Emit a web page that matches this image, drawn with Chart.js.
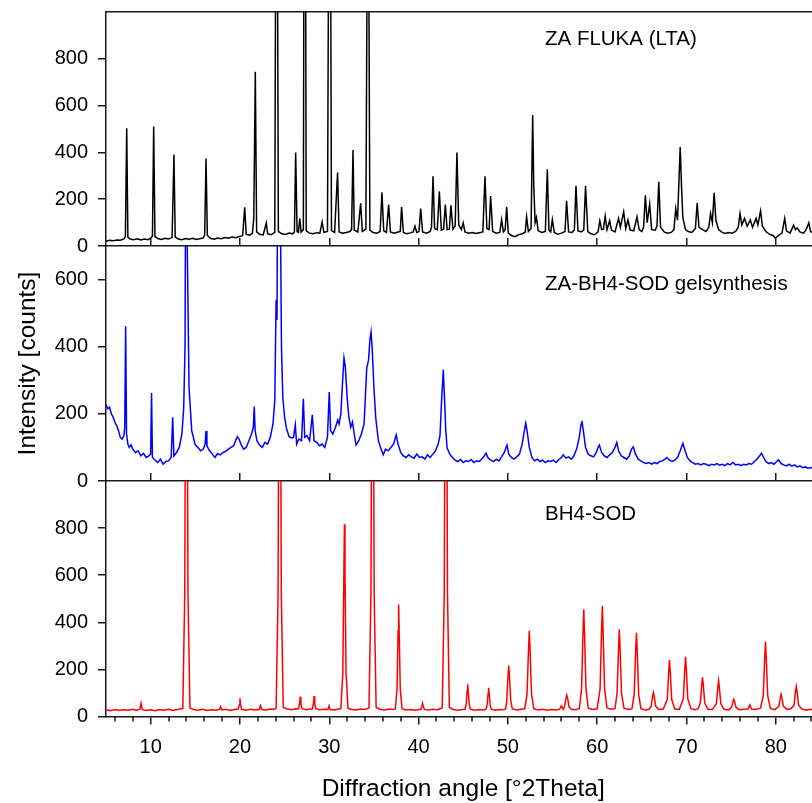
<!DOCTYPE html>
<html><head><meta charset="utf-8">
<script src="https://cdn.jsdelivr.net/npm/chart.js"></script>
<style>
html,body{margin:0;padding:0;background:#fff;overflow:hidden;width:812px;height:803px;}
canvas{position:absolute;left:0;}
#c1{top:0;z-index:1} #c2{top:230px;z-index:2} #c3{top:465px;z-index:3}
</style></head><body>
<canvas id="c1" width="830" height="256"></canvas>
<canvas id="c2" width="830" height="261"></canvas>
<canvas id="c3" width="830" height="341"></canvas>
<script>
const FONT = "'Liberation Sans', Arial, Helvetica, sans-serif";
const AXIS = '#1a1a1a';

const panelLabels = ['ZA FLUKA (LTA)', 'ZA-BH4-SOD gelsynthesis', 'BH4-SOD'];
const yMaxima = [1000, 700, 1000];
const yLabelMax = [800, 600, 800];
const lineColors = ['#000000', '#0000ff', '#ff0000'];
const xMajorTicks = [10, 20, 30, 40, 50, 60, 70, 80];
const xMinorStep = 2;
const xTitle = 'Diffraction angle [°2Theta]';
const yTitle = 'Intensity [counts]';

// [2Theta, counts]
const flukaLTA = [[5.0,20],[5.4,24],[5.8,22],[6.2,26],[6.6,25],[7.0,30],[7.17,40],[7.32,503],[7.45,38],[7.7,30],[8.1,27],[8.5,31],[8.9,26],[9.3,30],[9.7,27],[10.0,33],[10.2,42],[10.34,511],[10.48,40],[10.8,32],[11.2,28],[11.6,33],[12.0,30],[12.4,36],[12.61,391],[12.75,38],[13.1,30],[13.5,27],[13.9,32],[14.3,29],[14.7,33],[15.1,28],[15.5,31],[15.9,35],[16.05,48],[16.2,374],[16.35,45],[16.7,33],[17.1,29],[17.5,34],[17.9,31],[18.3,36],[18.7,33],[19.1,38],[19.5,35],[19.9,40],[20.3,44],[20.53,165],[20.7,50],[21.1,46],[21.4,55],[21.55,120],[21.72,745],[21.87,60],[22.2,50],[22.6,47],[22.95,98],[23.1,52],[23.5,48],[23.9,58],[24.1,2500],[24.3,62],[24.7,52],[25.1,49],[25.5,55],[25.9,52],[26.1,60],[26.24,399],[26.4,62],[26.55,58],[26.7,118],[26.85,60],[27.1,70],[27.25,3000],[27.42,65],[27.8,55],[28.2,52],[28.6,57],[28.95,55],[29.2,103],[29.4,58],[29.8,62],[30.05,2500],[30.25,66],[30.6,58],[30.93,314],[31.1,60],[31.5,55],[31.9,58],[32.3,62],[32.5,70],[32.66,410],[32.8,68],[33.2,60],[33.52,183],[33.7,62],[34.1,72],[34.34,2000],[34.55,68],[34.9,58],[35.3,55],[35.7,62],[35.9,230],[36.1,65],[36.4,58],[36.65,177],[36.85,60],[37.3,55],[37.7,60],[37.95,62],[38.1,167],[38.3,58],[38.7,52],[39.1,56],[39.4,60],[39.6,85],[39.8,58],[40.05,62],[40.24,160],[40.45,60],[40.9,55],[41.3,62],[41.45,80],[41.62,298],[41.8,75],[42.1,70],[42.33,234],[42.55,68],[42.8,72],[43.0,177],[43.2,70],[43.45,72],[43.63,174],[43.85,72],[44.1,85],[44.3,399],[44.5,90],[44.8,70],[45.0,99],[45.2,60],[45.6,55],[46.0,58],[46.4,54],[46.8,57],[47.2,60],[47.44,298],[47.65,75],[47.9,70],[48.07,214],[48.3,62],[48.7,55],[49.1,58],[49.3,113],[49.5,60],[49.7,70],[49.87,167],[50.05,55],[50.4,45],[50.8,40],[51.2,48],[51.6,52],[51.95,60],[52.1,125],[52.3,62],[52.6,75],[52.78,560],[52.9,262],[53.05,100],[53.2,122],[53.4,65],[53.8,58],[54.2,62],[54.42,328],[54.6,68],[54.8,60],[54.98,113],[55.2,58],[55.6,50],[56.0,55],[56.4,62],[56.58,193],[56.8,60],[57.2,58],[57.45,70],[57.63,257],[57.85,65],[58.2,60],[58.5,68],[58.7,257],[58.95,62],[59.3,52],[59.7,48],[60.1,60],[60.3,108],[60.5,70],[60.7,72],[60.9,128],[61.1,70],[61.4,108],[61.6,68],[62.0,60],[62.4,118],[62.6,80],[62.97,146],[63.2,75],[63.45,111],[63.7,68],[64.1,65],[64.46,125],[64.7,70],[65.0,62],[65.2,80],[65.4,217],[65.6,100],[65.88,179],[66.1,70],[66.5,68],[66.7,85],[66.9,274],[67.1,80],[67.5,60],[67.9,55],[68.3,58],[68.6,70],[68.8,160],[69.0,110],[69.3,423],[69.45,252],[69.6,120],[69.9,70],[70.2,62],[70.6,58],[71.0,75],[71.2,184],[71.4,80],[71.8,70],[72.2,62],[72.5,80],[72.7,139],[72.9,100],[73.1,227],[73.3,110],[73.6,70],[74.0,58],[74.35,54],[74.7,58],[75.1,55],[75.5,62],[75.8,80],[76.0,139],[76.2,90],[76.5,118],[76.8,85],[77.15,111],[77.4,80],[77.8,118],[78.0,90],[78.3,150],[78.5,85],[78.9,62],[79.3,50],[79.7,45],[79.95,33],[80.3,45],[80.7,55],[81.0,118],[81.2,65],[81.6,55],[82.0,89],[82.2,70],[82.4,77],[82.7,60],[83.1,55],[83.4,70],[83.7,99],[83.9,62],[84.2,55],[84.6,60],[85,57]];

const gelSynthesis = [[5.0,227],[5.2,215],[5.4,220],[5.6,200],[5.8,190],[6.0,175],[6.2,165],[6.4,150],[6.6,130],[6.8,125],[7.0,135],[7.1,160],[7.2,461],[7.3,140],[7.45,110],[7.6,100],[7.8,108],[8.0,95],[8.3,85],[8.6,90],[8.9,75],[9.2,82],[9.5,70],[9.8,75],[10.0,80],[10.1,262],[10.2,70],[10.5,62],[10.8,55],[11.1,65],[11.4,50],[11.7,58],[12.0,60],[12.3,70],[12.47,190],[12.6,75],[12.9,85],[13.2,100],[13.5,140],[13.7,217],[13.85,400],[13.96,1200],[14.1,700],[14.3,277],[14.6,150],[15.0,107],[15.3,100],[15.6,90],[15.9,95],[16.1,110],[16.2,149],[16.3,105],[16.6,90],[16.9,80],[17.2,70],[17.5,82],[17.8,78],[18.1,85],[18.4,88],[18.7,95],[19.0,100],[19.3,105],[19.5,120],[19.7,132],[19.9,125],[20.1,110],[20.4,95],[20.7,100],[21.0,120],[21.3,140],[21.5,160],[21.6,222],[21.7,150],[21.9,120],[22.2,107],[22.5,100],[22.8,115],[23.1,110],[23.4,130],[23.7,170],[23.9,240],[24.05,540],[24.15,480],[24.3,1500],[24.5,900],[24.65,400],[24.8,248],[25.0,190],[25.2,158],[25.5,132],[25.8,128],[26.0,130],[26.2,167],[26.35,110],[26.6,125],[26.9,120],[27.1,245],[27.25,130],[27.5,135],[27.8,120],[28.1,197],[28.3,120],[28.6,115],[28.9,105],[29.2,110],[29.5,100],[29.8,130],[30.0,265],[30.15,150],[30.4,140],[30.7,160],[30.95,182],[31.1,170],[31.3,200],[31.5,300],[31.65,366],[31.8,340],[32.0,250],[32.2,190],[32.4,160],[32.6,176],[32.8,140],[33.0,107],[33.3,120],[33.6,140],[33.9,170],[34.2,337],[34.4,360],[34.55,420],[34.68,444],[34.8,400],[35.0,280],[35.2,190],[35.5,120],[35.8,95],[36.05,78],[36.3,95],[36.6,90],[36.9,100],[37.2,110],[37.5,137],[37.7,110],[38.0,85],[38.3,75],[38.6,70],[38.9,78],[39.2,72],[39.5,68],[39.8,80],[40.1,70],[40.4,72],[40.7,65],[41.0,78],[41.3,70],[41.6,80],[41.9,90],[42.2,110],[42.4,135],[42.6,250],[42.77,331],[42.9,250],[43.05,150],[43.2,98],[43.5,80],[43.8,70],[44.1,62],[44.4,58],[44.7,64],[45.0,55],[45.3,60],[45.6,58],[45.9,64],[46.2,55],[46.5,60],[46.8,58],[47.1,66],[47.3,72],[47.55,83],[47.8,68],[48.1,62],[48.4,58],[48.7,65],[49.0,60],[49.3,72],[49.6,85],[49.9,107],[50.1,80],[50.4,70],[50.7,65],[51.0,72],[51.3,80],[51.6,110],[51.85,150],[52.0,172],[52.15,150],[52.4,100],[52.7,70],[53.0,60],[53.3,65],[53.6,58],[53.9,62],[54.2,55],[54.5,60],[54.8,58],[55.1,62],[55.4,55],[55.7,64],[56.0,70],[56.2,78],[56.5,68],[56.8,72],[57.1,65],[57.4,75],[57.7,95],[58.0,130],[58.2,170],[58.3,179],[58.45,150],[58.7,100],[59.0,80],[59.3,75],[59.6,72],[59.9,85],[60.1,100],[60.25,107],[60.5,85],[60.8,75],[61.1,70],[61.4,78],[61.7,85],[62.0,100],[62.2,115],[62.4,90],[62.7,75],[63.0,70],[63.3,65],[63.6,75],[63.85,95],[64.05,102],[64.3,80],[64.6,65],[64.9,60],[65.2,55],[65.5,52],[65.8,55],[66.1,50],[66.4,55],[66.7,52],[67.0,58],[67.3,60],[67.6,65],[67.8,70],[68.1,62],[68.4,58],[68.7,62],[69.0,70],[69.3,90],[69.6,112],[69.85,90],[70.1,70],[70.4,60],[70.7,55],[71.0,50],[71.3,52],[71.6,48],[71.9,52],[72.2,50],[72.5,46],[72.8,50],[73.1,48],[73.4,52],[73.7,47],[74.0,50],[74.3,46],[74.6,52],[74.9,48],[75.2,55],[75.5,48],[75.8,50],[76.1,46],[76.4,50],[76.7,48],[77.0,52],[77.3,50],[77.6,58],[77.9,65],[78.2,75],[78.4,83],[78.65,70],[78.9,58],[79.2,52],[79.5,55],[79.8,50],[80.1,58],[80.3,63],[80.6,52],[80.9,48],[81.2,45],[81.5,50],[81.8,44],[82.1,48],[82.4,42],[82.7,45],[83.0,40],[83.3,42],[83.6,38],[84.0,40],[84.5,36],[85,38]];

const bh4Sod = [[5.0,28],[5.5,25],[6.0,30],[6.5,26],[7.0,29],[7.5,27],[8.0,31],[8.4,26],[8.8,32],[8.92,56],[9.05,30],[9.5,26],[10.0,29],[10.5,25],[11.0,30],[11.5,27],[12.0,31],[12.5,26],[13.0,30],[13.4,33],[13.6,34],[13.82,524],[13.94,1882],[14.0,2500],[14.06,1882],[14.18,524],[14.4,36],[14.8,30],[15.3,27],[15.8,31],[16.3,26],[16.8,29],[17.3,27],[17.7,30],[17.84,42],[17.98,28],[18.4,31],[18.9,26],[19.4,30],[19.8,32],[19.93,50],[20.0,77],[20.07,50],[20.2,30],[20.7,27],[21.2,31],[21.7,28],[22.15,30],[22.3,46],[22.45,30],[22.9,28],[23.4,32],[23.8,30],[24.05,35],[24.27,524],[24.39,1882],[24.45,2500],[24.51,1882],[24.63,524],[24.85,38],[25.3,32],[25.8,29],[26.2,33],[26.55,32],[26.68,55],[26.75,84],[26.82,55],[26.95,33],[27.4,29],[27.8,32],[28.1,32],[28.23,55],[28.3,87],[28.37,55],[28.5,33],[28.9,29],[29.4,31],[29.85,30],[29.97,45],[30.1,30],[30.6,28],[31.0,32],[31.3,33],[31.52,187],[31.64,620],[31.7,816],[31.76,620],[31.88,187],[32.1,35],[32.5,30],[33.0,28],[33.5,32],[34.0,30],[34.45,36],[34.67,524],[34.79,1882],[34.85,2500],[34.91,1882],[35.03,524],[35.25,38],[35.7,31],[36.2,28],[36.7,32],[37.1,30],[37.4,32],[37.59,119],[37.71,365],[37.77,476],[37.83,365],[37.95,119],[38.15,33],[38.6,28],[39.1,30],[39.6,27],[40.0,30],[40.25,30],[40.38,45],[40.45,56],[40.52,45],[40.65,30],[41.1,28],[41.6,31],[42.1,29],[42.4,33],[42.65,36],[42.88,524],[43.0,1882],[43.06,2500],[43.12,1882],[43.24,524],[43.45,38],[43.9,30],[44.4,27],[44.9,30],[45.2,30],[45.33,51],[45.44,110],[45.5,137],[45.56,110],[45.67,51],[45.8,31],[46.3,27],[46.8,30],[47.3,28],[47.55,31],[47.68,48],[47.79,99],[47.85,122],[47.91,99],[48.02,48],[48.15,31],[48.6,27],[49.1,30],[49.5,29],[49.75,32],[49.88,67],[50.01,170],[50.1,216],[50.19,170],[50.32,67],[50.5,32],[51.0,28],[51.5,31],[51.9,33],[52.15,97],[52.31,280],[52.4,364],[52.49,280],[52.65,97],[52.9,33],[53.4,28],[53.9,31],[54.4,27],[54.9,30],[55.4,28],[55.8,31],[56.0,45],[56.2,30],[56.35,42],[56.5,76],[56.6,91],[56.7,76],[56.85,42],[57.1,31],[57.6,29],[58.0,33],[58.25,115],[58.41,349],[58.5,455],[58.59,349],[58.75,115],[59.0,35],[59.5,30],[60.0,33],[60.33,118],[60.49,359],[60.58,469],[60.67,359],[60.83,118],[61.1,36],[61.6,31],[62.0,34],[62.23,98],[62.39,285],[62.48,370],[62.57,285],[62.73,98],[63.0,35],[63.5,30],[63.9,33],[64.15,95],[64.31,275],[64.4,356],[64.49,275],[64.65,95],[64.9,33],[65.4,28],[65.8,31],[66.05,44],[66.2,83],[66.3,101],[66.4,83],[66.55,44],[66.9,30],[67.4,32],[67.85,72],[68.01,188],[68.1,240],[68.19,188],[68.35,72],[68.7,32],[69.2,30],[69.65,75],[69.81,198],[69.9,254],[69.99,198],[70.15,75],[70.5,33],[71.0,29],[71.3,33],[71.55,57],[71.71,132],[71.8,166],[71.89,132],[72.05,57],[72.4,31],[72.9,30],[73.35,54],[73.51,122],[73.6,152],[73.69,122],[73.85,54],[74.2,31],[74.7,28],[75.05,39],[75.2,62],[75.3,73],[75.4,62],[75.55,39],[75.9,29],[76.4,31],[76.9,32],[77.1,49],[77.3,32],[77.8,30],[78.3,36],[78.6,88],[78.76,246],[78.85,318],[78.94,246],[79.1,88],[79.4,34],[79.9,29],[80.35,43],[80.5,78],[80.6,94],[80.7,78],[80.85,43],[81.3,30],[81.7,33],[82.05,49],[82.2,103],[82.3,127],[82.4,103],[82.55,49],[82.9,32],[83.4,27],[83.9,31],[84.4,28],[85,30]];

const series = [flukaLTA, gelSynthesis, bh4Sod];

const panelLabel = {
  id: 'panelLabel',
  afterDraw(chart, args, opts) {
    const {ctx, chartArea} = chart;
    ctx.save();
    ctx.font = '20.5px ' + FONT;
    ctx.fillStyle = '#000';
    ctx.textBaseline = 'middle';
    ctx.textAlign = 'left';
    ctx.fillText(opts.text, chartArea.left + opts.dx, chartArea.top + opts.dy);
    ctx.restore();
  }
};

const minorTicks = {
  id: 'minorTicks',
  afterDraw(chart) {
    const s = chart.scales.x;
    const ctx = chart.ctx;
    ctx.save();
    ctx.strokeStyle = AXIS;
    ctx.lineWidth = 1.5;
    s.ticks.forEach(t => {
      if (!xMajorTicks.includes(t.value)) {
        const px = Math.round(s.getPixelForValue(t.value));
        ctx.beginPath();
        ctx.moveTo(px, s.top);
        ctx.lineTo(px, s.top + 5);
        ctx.stroke();
      }
    });
    ctx.restore();
  }
};

function yAxis(i, withTitle) {
  return {
    type: 'linear', position: 'left', min: 0, max: yMaxima[i],
    afterBuildTicks: s => { s.ticks = s.ticks.filter(t => t.value <= yLabelMax[i]); },
    afterFit: s => { s.width = 106; s.paddingTop = 0; s.paddingBottom = 0; },
    ticks: { stepSize: 200, padding: 10, color: '#000', font: { family: FONT, size: 20 } },
    grid: { display: true, drawOnChartArea: false, drawTicks: true, tickLength: 8, color: AXIS, lineWidth: 1.5 },
    border: { display: true, color: AXIS, width: 1.5 },
    title: { display: withTitle, text: yTitle, color: '#000', font: { family: FONT, size: 24.5 }, padding: { top: 14, bottom: 0 } }
  };
}

function topAxis(withTicks) {
  return {
    type: 'linear', axis: 'x', position: 'top', min: 5, max: 85,
    afterBuildTicks: s => { s.ticks = xMajorTicks.map(v => ({ value: v })); },
    afterFit: s => { s.height = withTicks ? 8 : 0; s.paddingLeft = 0; s.paddingRight = 0; },
    ticks: { display: false },
    grid: { display: withTicks, drawOnChartArea: false, drawTicks: withTicks, tickLength: 8, color: AXIS, lineWidth: 1.5 },
    border: { display: true, color: AXIS, width: 1.5 }
  };
}

function dataset(i) {
  return {
    data: series[i].map(([x, y]) => ({x, y})),
    borderColor: lineColors[i],
    borderWidth: 1.5,
    pointRadius: 0,
    tension: 0,
    fill: false,
    xAxisID: 'x',
    yAxisID: 'y'
  };
}

const common = {
  responsive: false,
  animation: false,
  devicePixelRatio: 1,
  events: []
};

new Chart(document.getElementById('c1'), {
  type: 'line',
  data: { datasets: [dataset(0)] },
  plugins: [panelLabel],
  options: Object.assign({}, common, {
    layout: { autoPadding: false, padding: { top: 12, bottom: 10, left: 0, right: 9.6 } },
    scales: { x: topAxis(false), y: yAxis(0, false) },
    plugins: { legend: { display: false }, tooltip: { enabled: false },
      panelLabel: { text: panelLabels[0], dx: 439, dy: 27.5 } }
  })
});

new Chart(document.getElementById('c2'), {
  type: 'line',
  data: { datasets: [dataset(1)] },
  plugins: [panelLabel],
  options: Object.assign({}, common, {
    layout: { autoPadding: false, padding: { top: 8, bottom: 10, left: 0, right: 9.6 } },
    scales: { x: topAxis(true), y: yAxis(1, true) },
    plugins: { legend: { display: false }, tooltip: { enabled: false },
      panelLabel: { text: panelLabels[1], dx: 439, dy: 38 } }
  })
});

new Chart(document.getElementById('c3'), {
  type: 'line',
  data: { datasets: [dataset(2)] },
  plugins: [panelLabel, minorTicks],
  options: Object.assign({}, common, {
    layout: { autoPadding: false, padding: { top: 8, bottom: 0, left: 0, right: 9.6 } },
    scales: {
      xTop: topAxis(true),
      x: {
        type: 'linear', position: 'bottom', min: 5, max: 85,
        afterBuildTicks: s => {
          const t = [];
          for (let v = 6; v < 85; v += xMinorStep) t.push({ value: v });
          s.ticks = t;
        },
        afterFit: s => { s.height = 89.5; s.paddingLeft = 0; s.paddingRight = 0; },
        ticks: { autoSkip: false, maxRotation: 0, padding: 11,
          color: '#000', font: { family: FONT, size: 20 },
          callback: v => (xMajorTicks.includes(v) ? String(v) : '') },
        grid: { display: true, drawOnChartArea: false, drawTicks: true, tickLength: 8, color: AXIS, lineWidth: 1.5,
          tickColor: c => (c.tick && xMajorTicks.includes(c.tick.value)) ? AXIS : 'rgba(0,0,0,0)' },
        border: { display: true, color: AXIS, width: 1.5 },
        title: { display: true, text: xTitle, color: '#000', font: { family: FONT, size: 24.5 }, padding: { top: 17.5, bottom: 2 } }
      },
      y: yAxis(2, false)
    },
    plugins: { legend: { display: false }, tooltip: { enabled: false },
      panelLabel: { text: panelLabels[2], dx: 439, dy: 33 } }
  })
});
</script></body></html>
